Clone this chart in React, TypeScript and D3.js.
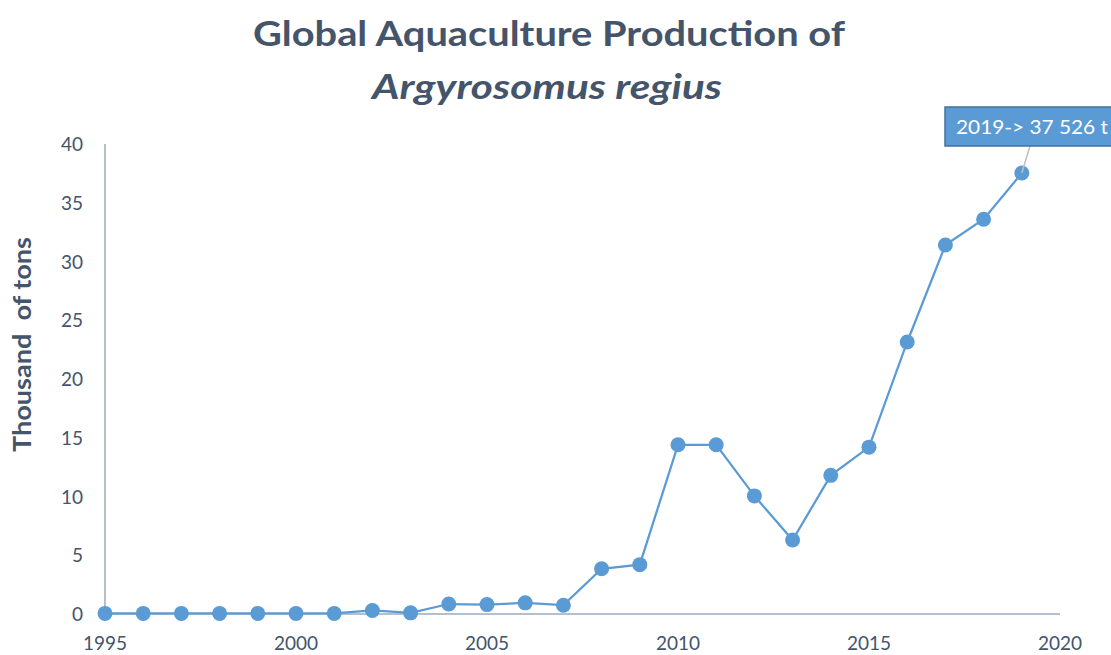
import React from "react";
import * as d3 from "d3";

const years = [1995,1996,1997,1998,1999,2000,2001,2002,2003,2004,2005,2006,2007,2008,2009,2010,2011,2012,2013,2014,2015,2016,2017,2018,2019];
const production = [0.05,0.05,0.05,0.05,0.05,0.05,0.05,0.3,0.1,0.85,0.8,0.95,0.75,3.85,4.2,14.4,14.4,10.05,6.3,11.8,14.2,23.15,31.4,33.6,37.526];
const yTicks = [0,5,10,15,20,25,30,35,40];
const xTicks = [1995,2000,2005,2010,2015,2020];
const titleLine1 = "Global Aquaculture Production of";
const titleLine2 = "Argyrosomus regius";
const yLabel = "Thousand  of tons";
const annotation = "2019-> 37 526 t";

export default function App() {
  const W = 1111, H = 655;
  const x = d3.scaleLinear().domain([1995, 2020]).range([105, 1060]);
  const y = d3.scaleLinear().domain([0, 40]).range([614, 144]);
  const line = d3.line<number>().x((_, i) => x(years[i])).y((d) => y(d));
  const textColor = "#44546a";
  const font = "Lato, 'Open Sans', sans-serif";
  const last = production.length - 1;
  const px = x(years[last]), py = y(production[last]);
  return (
    <svg width={W} height={H} style={{ position: "absolute", left: 0, top: 0, background: "#fff" }} fontFamily={font}>
      <text x={253} y={46} fontSize={35} fontWeight="bold" fill={textColor} textLength={592} lengthAdjust="spacingAndGlyphs">{titleLine1}</text>
      <text x={372} y={99} fontSize={35} fontWeight="bold" fontStyle="italic" fill={textColor} textLength={350} lengthAdjust="spacingAndGlyphs">{titleLine2}</text>
      <text transform={`translate(31,452) rotate(-90)`} fontSize={24} fontWeight="bold" fill={textColor} textLength={215} lengthAdjust="spacingAndGlyphs" style={{ whiteSpace: "pre" }}>{yLabel}</text>
      {yTicks.map((t) => (
        <text key={t} x={83} y={y(t) + 7} textAnchor="end" fontSize={19} fill={textColor}>{t}</text>
      ))}
      {xTicks.map((t) => (
        <text key={t} x={x(t)} y={650} textAnchor="middle" fontSize={19} fill={textColor}>{t}</text>
      ))}
      <line x1={x(1995)} x2={x(2020)} y1={y(0)} y2={y(0)} stroke="#b4bfd0" strokeWidth={2} />
      <line x1={x(1995)} x2={x(1995)} y1={y(0)} y2={y(40)} stroke="#b4bfd0" strokeWidth={2} />
      <path d={line(production) || ""} fill="none" stroke="#5b9bd5" strokeWidth={2.25} />
      {production.map((v, i) => (
        <circle key={i} cx={x(years[i])} cy={y(v)} r={7.5} fill="#5b9bd5" />
      ))}
      <line x1={1030} y1={146} x2={px} y2={py} stroke="#bfbfbf" strokeWidth={1.5} />
      <rect x={945} y={107} width={180} height={39} fill="#5b9bd5" stroke="#41719c" strokeWidth={1.5} />
      <text x={956} y={134} fontSize={20} fill="#fff" textLength={152} lengthAdjust="spacingAndGlyphs">{annotation}</text>
    </svg>
  );
}
